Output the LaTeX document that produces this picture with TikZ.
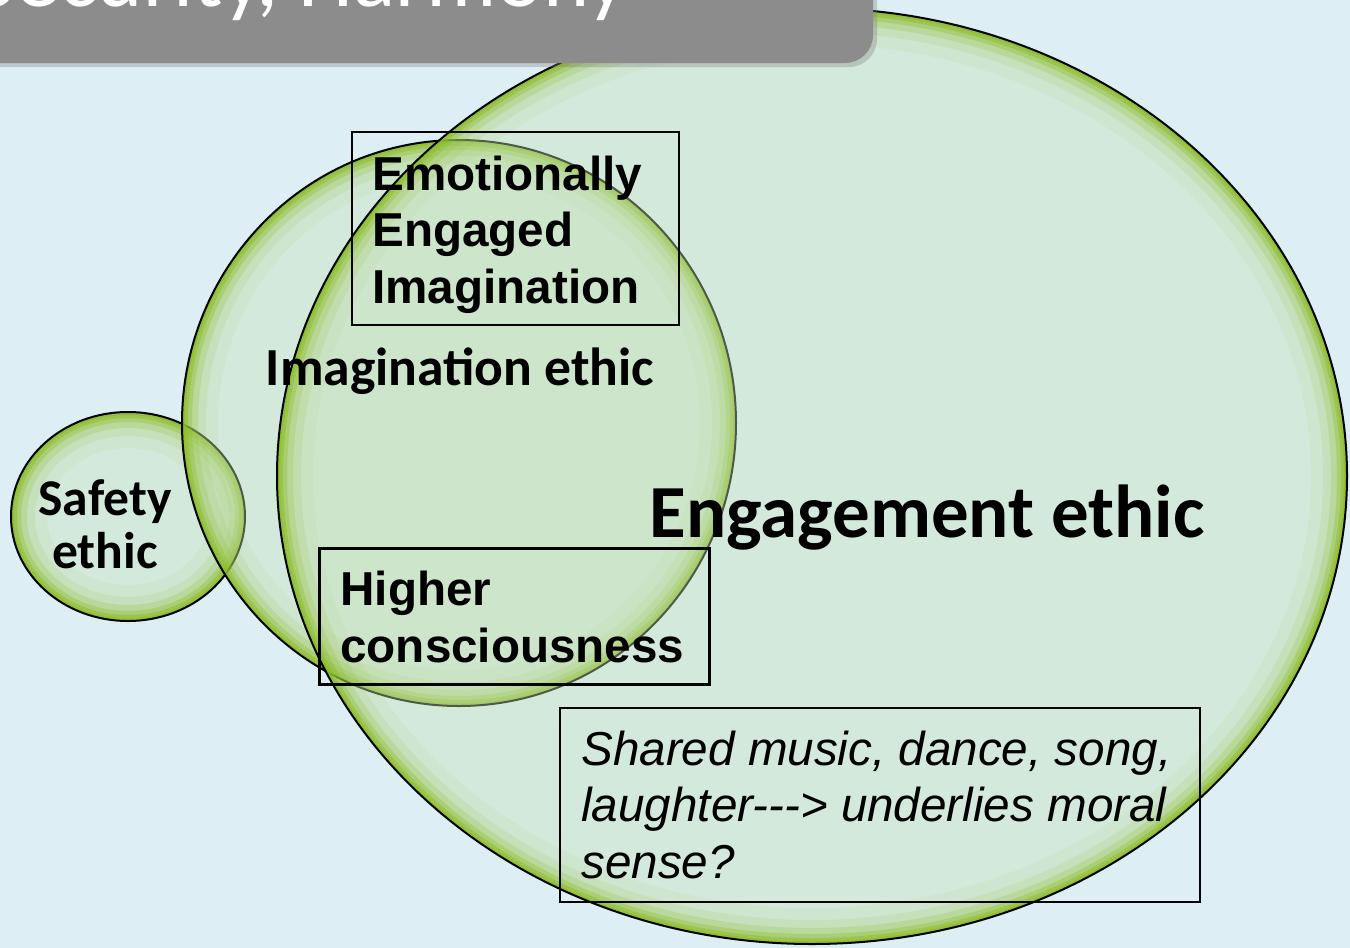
\documentclass[tikz,border=0pt]{standalone}
\usepackage{fontspec}
\setmainfont{Liberation Sans}
\newfontfamily\calib{Carlito}
\usetikzlibrary{shadows}

\definecolor{bgblue}{HTML}{DDEFF5}
\definecolor{bubblefill}{HTML}{C5E0B4}
\definecolor{rimgreen}{HTML}{8ABC22}
\definecolor{titlegray}{HTML}{8C8C8C}

\tikzset{
  ethic/.style={font=\calib\bfseries, text=black, inner sep=0pt},
  notebox/.style={draw=black, line width=1pt, inner sep=0pt},
  notetext/.style={align=left, inner sep=0pt, anchor=base west,
    font=\fontsize{23.8}{28.25}\selectfont\bfseries},
}

% bubble: name, centre, x radius, y radius
\newcommand\bubble[4]{%
  \fill[bubblefill, fill opacity=.4] #2 ellipse [x radius=#3, y radius=#4];
  \begin{scope}
    \clip #2 ellipse [x radius=#3, y radius=#4];
    \foreach \w/\o in {36/.06, 24/.12, 16/.2, 10/.32, 6/.45, 3/.55}
      \draw[rimgreen, line width=\w pt, draw opacity=\o] #2 ellipse [x radius=#3, y radius=#4];
  \end{scope}
  \draw[line width=1pt] #2 ellipse [x radius=#3, y radius=#4];
  \coordinate (#1) at #2;
}

\begin{document}
\begin{tikzpicture}[x=0.5pt, y=-0.5pt]
\fill[bgblue] (0,0) rectangle (1350,948);
\useasboundingbox (0,0) rectangle (1350,948);

% bubbles
\bubble{safetyc}{(128,516.5)}{117}{104.5}
\bubble{imagc}{(459,423)}{277}{283}
\bubble{engagec}{(812,476)}{535}{468}

% title bar, cut off at the top
\path[fill=titlegray, rounded corners=14pt,
  drop shadow={shadow xshift=2pt, shadow yshift=-2pt, opacity=.35}] (-60,-60) rectangle (873,63);
\node[font=\calib\fontsize{44}{50}\selectfont, text=white, anchor=base west, inner sep=0pt] (title) at (-25,6) {Security, Harmony};

% labels
\node[ethic, font=\calib\bfseries\fontsize{25.8}{26.5}\selectfont, align=center] (safety) at (105,524) {Safety\\ethic};
\node[ethic, font=\calib\bfseries\fontsize{26.8}{30}\selectfont, anchor=base] (imag) at (460,385) {Imagination ethic};
\node[ethic, font=\calib\bfseries\fontsize{37.5}{40}\selectfont, anchor=base] (engage) at (927,537) {Engagement ethic};

% boxes (text placed by the baseline of its last line)
\node[notebox, minimum width=163.5pt, minimum height=96.5pt] (eei) at (515.5,228.5) {};
\node[notetext] (eeitext) at (372,303) {Emotionally\\Engaged\\Imagination};
\node[notebox, line width=1.5pt, minimum width=195pt, minimum height=68pt] (higher) at (514,616) {};
\node[notetext] (highertext) at (340,662) {Higher\\consciousness};
\node[notebox, minimum width=320pt, minimum height=97pt] (shared) at (880,805) {};
\node[notetext, font=\fontsize{23.8}{28.25}\selectfont\itshape] (sharedtext) at (581,878)
  {Shared music, dance, song,\\laughter{-}{-}{-}> underlies moral\\sense?};
\end{tikzpicture}
\end{document}
